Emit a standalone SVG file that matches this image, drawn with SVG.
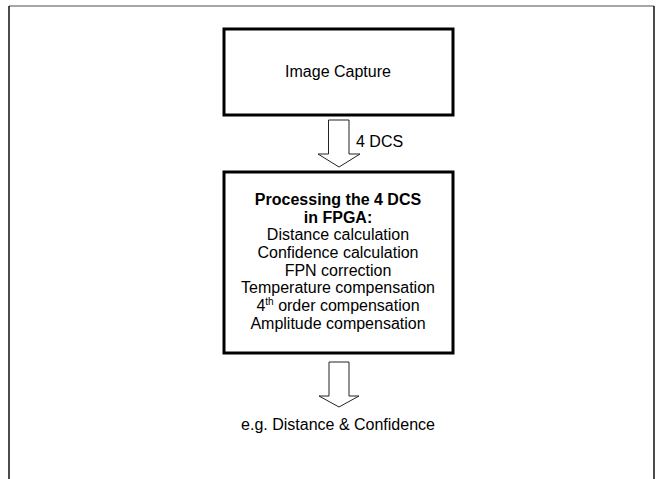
<svg xmlns="http://www.w3.org/2000/svg" width="656" height="479" viewBox="0 0 656 479">
<style>
.box{fill:#fff;stroke:#000;stroke-width:3}
.arrow{fill:#fff;stroke:#222;stroke-width:1}
text{font-family:"Liberation Sans",Arial,sans-serif;font-size:16px;fill:#000}
.c{text-anchor:middle}
.b{font-weight:bold}
</style>
<rect width="656" height="479" fill="#fff"/>
<g id="frame">
<line x1="9" y1="6" x2="654" y2="6" stroke="#888" stroke-width="1.5"/>
<line x1="9" y1="6" x2="9" y2="479" stroke="#111" stroke-width="1.5"/>
<line x1="654" y1="6" x2="654" y2="479" stroke="#111" stroke-width="1.5"/>
</g>
<g id="image-capture">
<rect class="box" x="224" y="29" width="229" height="86"/>
<text class="c" x="338" y="77">Image Capture</text>
</g>
<g id="processing">
<rect class="box" x="224" y="172" width="229" height="181"/>
<text class="c b" x="338" y="205">Processing the 4 DCS</text>
<text class="c b" x="338" y="222.5">in FPGA:</text>
<text class="c" x="338" y="240">Distance calculation</text>
<text class="c" x="338" y="258">Confidence calculation</text>
<text class="c" x="338" y="275.5">FPN correction</text>
<text class="c" x="338" y="293">Temperature compensation</text>
<text class="c" x="338" y="311">4<tspan font-size="10" dy="-6">th</tspan><tspan dy="6"> order compensation</tspan></text>
<text class="c" x="338" y="328.5">Amplitude compensation</text>
</g>
<g id="output">
<text class="c" x="338" y="430">e.g. Distance &amp; Confidence</text>
</g>
<g id="connectors">
<path class="arrow" d="M328.5,120 H349 V154 H360 L339,167 L318,154 H328.5 Z"/>
<text x="356" y="147">4 DCS</text>
<path class="arrow" d="M329,362 H349 V396 H359 L339,407 L319,396 H329 Z"/>
</g>
</svg>
